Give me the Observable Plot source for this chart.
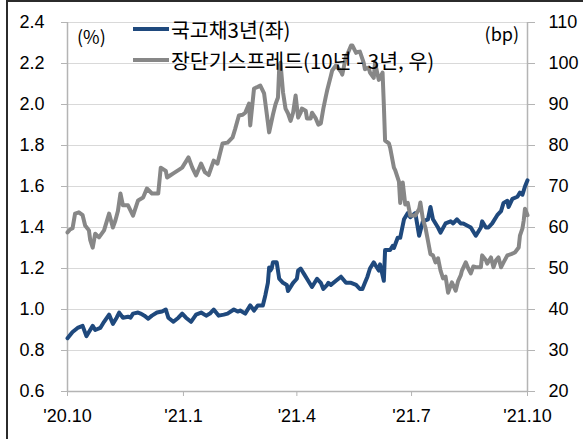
<!DOCTYPE html>
<html>
<head>
<meta charset="utf-8">
<script src="https://cdn.jsdelivr.net/npm/d3@7"></script>
<script src="https://cdn.jsdelivr.net/npm/@observablehq/plot@0.6"></script>
<style>
  html, body { margin: 0; padding: 0; background: #fff; overflow: hidden; }
  #wrap { position: relative; width: 583px; height: 439px; overflow: hidden; }
  #frame { position: absolute; left: 6px; top: 0; width: 700px; height: 600px;
           border-left: 2px solid #2b2b2b; border-top: 2px solid #2b2b2b; box-sizing: border-box; pointer-events: none; }
  .lab { position: absolute; font-family: "Noto Sans CJK KR", "Liberation Sans", sans-serif; font-size: 18px; color: #000; white-space: nowrap; line-height: 1; }
  .leg { position: absolute; display: flex; align-items: center; font-family: "Noto Sans CJK KR", sans-serif; font-size: 20.5px; color: #000; white-space: nowrap; line-height: 1; }
  .leg .sw { display: inline-block; width: 36px; height: 4px; margin-right: 2px; }
</style>
</head>
<body>
<div id="wrap">
  <div id="chart"></div>
  <div id="frame"></div>
</div>
<script>
// ---- data ----
const startDate = "2020-10-01";
const endDate = "2021-10-01";
const seriesNames = ["국고채3년(좌)", "장단기스프레드(10년 - 3년, 우)"];
const unitLeft = "(%)";
const unitRight = "(bp)";

// 국고채 3년 (%), days since start
const bondDays = [0,4,8,12,15,17,20,22,26,29,33,36,39,41,44,48,50,52,56,58,61,64,67,71,75,78,80,84,88,91,94,98,102,106,110,113,116,120,124,127,132,135,137,141,145,148,151,155,157,159,160,161,162,163,166,168,171,174,175,178,179,182,183,185,188,190,194,198,201,203,206,207,209,213,217,221,225,229,232,234,236,238,240,243,245,247,248,251,252,256,258,259,262,264,267,270,272,276,279,282,286,288,290,294,296,300,304,306,309,312,314,317,320,324,328,329,332,334,337,341,344,346,349,350,353,357,359,361,363,365];
const bondVals = [0.86,0.89,0.91,0.92,0.87,0.89,0.92,0.90,0.91,0.94,0.975,0.93,0.96,0.985,0.96,0.965,0.96,0.98,0.985,0.98,0.97,0.955,0.97,0.985,0.99,1.0,0.96,0.94,0.96,0.98,0.96,0.94,0.975,0.985,0.97,0.98,1.0,0.97,0.975,0.98,1.0,0.99,0.995,0.98,1.02,0.995,1.02,1.02,1.07,1.13,1.205,1.19,1.20,1.23,1.23,1.15,1.13,1.12,1.09,1.12,1.13,1.15,1.19,1.2,1.17,1.15,1.11,1.15,1.13,1.10,1.12,1.13,1.12,1.14,1.16,1.13,1.13,1.12,1.10,1.10,1.13,1.16,1.2,1.23,1.21,1.19,1.22,1.14,1.29,1.29,1.31,1.30,1.35,1.35,1.44,1.47,1.45,1.47,1.36,1.43,1.44,1.50,1.44,1.40,1.375,1.42,1.43,1.42,1.44,1.42,1.42,1.41,1.40,1.36,1.40,1.43,1.40,1.40,1.42,1.46,1.48,1.52,1.53,1.50,1.54,1.55,1.57,1.56,1.60,1.63];

// 장단기 스프레드 (bp), days since start
const spreadDays = [0,2,4,6,9,12,14,17,18,20,22,25,29,33,36,38,40,42,44,48,52,56,60,63,67,72,74,78,79,82,84,88,91,96,99,102,106,109,112,116,119,123,127,131,133,136,139,141,144,145,148,151,153,156,158,160,163,165,167,168,169,171,173,175,177,179,181,183,185,186,189,190,193,194,197,199,201,203,205,206,209,210,213,215,217,218,221,222,225,226,229,230,232,235,236,239,240,243,244,247,248,250,251,252,255,256,259,260,263,264,266,268,270,272,274,276,279,280,282,284,286,288,290,292,294,296,298,300,302,303,305,308,310,312,313,316,318,320,322,324,326,328,329,332,333,336,338,340,342,344,346,349,352,355,358,359,361,362,363,365];
const spreadVals = [58.8,59.5,59.8,63.4,63.7,63,60.5,59.3,57,55.1,58.5,57.6,59.3,63.4,60,61.7,64,68.3,65.4,65.4,62.9,66.6,67.3,69.5,68.3,68.3,74.6,73.8,72.2,72.8,73.2,74,74.6,77.1,74.6,72.7,75.6,73.5,72.8,76.3,75.6,80.5,80.7,82,84,87.3,87.5,88,90.2,84.9,93.9,94.3,94.6,92.7,88,83.2,87.5,90,91.7,99,100.2,93,89,87.8,86,88,92.2,86.8,88,89,88.5,86.6,86.6,88,86.6,85.1,85.4,89,92,93.4,97,98.3,99.5,98.8,98,97.3,101.7,102.2,104.4,104.4,102.6,102.8,102.9,100.2,98.6,99,97.8,96.5,100.2,96,96.5,97.8,90,81.2,80.5,79.5,74.6,74,71.2,66,71,65.6,66,62.9,62.9,62.9,64.5,66.1,62,60,56.8,53.5,53.2,51.5,52.5,49.5,47.6,48,44.1,45,46.6,44.6,47,48.3,49.5,51.5,50,48.8,50.5,50.3,50.3,50.3,53.2,52,51.2,52.7,50.3,52,52.7,50.3,51.5,53.2,53.5,53.9,55.1,58,59.8,61.7,64.6,63];

const leftTicks = [0.6,0.8,1.0,1.2,1.4,1.6,1.8,2.0,2.2,2.4];
const rightTicks = [20,30,40,50,60,70,80,90,100,110];
const xTickDates = ["2020-10-01","2021-01-01","2021-04-01","2021-07-01","2021-10-01"];
const xTickLabels = ["'20.10","'21.1","'21.4","'21.7","'21.10"];

// ---- build ----
const t0 = new Date(startDate + "T00:00:00Z");
const dayToDate = d => d3.utcDay.offset(t0, d);
const bond = bondDays.map((d, i) => ({date: dayToDate(d), v: bondVals[i]}));
const spread = spreadDays.map((d, i) => ({date: dayToDate(d), v: spreadVals[i]}));
// map right-axis (bp) onto left-axis (%) scale
const L0 = leftTicks[0], L1 = leftTicks[leftTicks.length-1];
const R0 = rightTicks[0], R1 = rightTicks[rightTicks.length-1];
const toLeft = b => L0 + (b - R0) * (L1 - L0) / (R1 - R0);
const rightLabel = new Map(leftTicks.map((t, i) => [t.toFixed(1), String(rightTicks[i])]));
const xTicks = xTickDates.map(s => new Date(s + "T00:00:00Z"));
const xLabel = new Map(xTicks.map((d, i) => [+d, xTickLabels[i]]));
const xDomain = [t0, new Date(endDate + "T00:00:00Z")];

const blue = "#1f497d";
const grey = "#878787";
const axisCol = "#b4b4b4";

const chart = Plot.plot({
  width: 583,
  height: 439,
  marginLeft: 67,
  marginRight: 56,
  marginTop: 22,
  marginBottom: 48,
  style: {fontFamily: "'Liberation Sans', sans-serif", fontSize: "18px", color: "#000", background: "transparent"},
  x: {type: "utc", domain: xDomain},
  y: {domain: [L0, L1]},
  marks: [
    Plot.gridY(leftTicks.slice(1), {stroke: "#d9d9d9", strokeOpacity: 1, strokeWidth: 1}),
    Plot.ruleY([L0], {stroke: axisCol, strokeWidth: 1.5}),
    Plot.ruleX([xDomain[0], xDomain[1]], {stroke: axisCol, strokeWidth: 1.5}),
    Plot.axisY(leftTicks, {anchor: "left", tickSize: 6, tickPadding: 17, stroke: axisCol, fill: "#000", fontSize: 18, tickFormat: d => d.toFixed(1), label: null}),
    Plot.axisY(leftTicks, {anchor: "right", tickSize: 7, tickPadding: 14, stroke: axisCol, fill: "#000", fontSize: 18, tickFormat: d => rightLabel.get(d.toFixed(1)), label: null}),
    Plot.axisX(xTicks, {anchor: "bottom", tickSize: 5, tickPadding: 13, stroke: axisCol, fill: "#000", fontSize: 18, tickFormat: d => xLabel.get(+d), label: null}),
    Plot.line(bond, {x: "date", y: "v", stroke: blue, strokeWidth: 4, strokeLinejoin: "round"}),
    Plot.line(spread, {x: "date", y: d => toLeft(d.v), stroke: grey, strokeWidth: 4, strokeLinejoin: "round"})
  ]
});
document.getElementById("chart").appendChild(chart);

// overlay labels / legend
const wrap = document.getElementById("wrap");
function addLabel(text, css) {
  const el = document.createElement("div");
  el.className = "lab";
  el.textContent = text;
  Object.assign(el.style, css);
  wrap.appendChild(el);
}
addLabel(unitLeft, {left: "77px", top: "27px"});
addLabel(unitRight, {right: (583 - 519) + "px", top: "24px"});
function addLegend(name, color, top) {
  const el = document.createElement("div");
  el.className = "leg";
  el.style.left = "133px";
  el.style.top = top + "px";
  const sw = document.createElement("span");
  sw.className = "sw";
  sw.style.background = color;
  el.appendChild(sw);
  const tx = document.createElement("span");
  tx.textContent = name;
  el.appendChild(tx);
  wrap.appendChild(el);
}
addLegend(seriesNames[0], blue, 19);
addLegend(seriesNames[1], grey, 50);
</script>
</body>
</html>
